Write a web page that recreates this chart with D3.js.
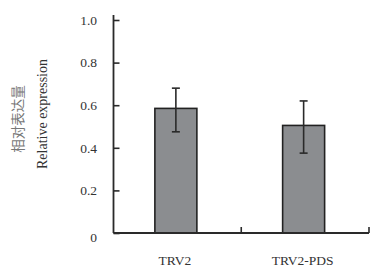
<!DOCTYPE html>
<html>
<head>
<meta charset="utf-8">
<script src="https://cdn.jsdelivr.net/npm/d3@7"></script>
<style>
  html, body { margin: 0; padding: 0; background: #fff; }
  svg { display: block; }
</style>
</head>
<body>
<div id="chart"></div>
<script>
'use strict';

// ─── Data ────────────────────────────────────────────────────────────────────
const categories = ['TRV2', 'TRV2-PDS'];
const values     = [0.585, 0.505];
const errLow     = [0.475, 0.375];
const errHigh    = [0.68, 0.62];
const yTicks     = [0, 0.2, 0.4, 0.6, 0.8, 1.0];

// ─── Layout ──────────────────────────────────────────────────────────────────
const W = 377, H = 275;
const x0 = 113.5, x1 = 369;
const yTop = 20, yBase = 233;

const svg = d3.select('#chart').append('svg')
  .attr('width', W).attr('height', H);

const x = d3.scaleBand()
  .domain(categories)
  .range([x0, x1])
  .paddingInner(0)
  .paddingOuter(0);

const y = d3.scaleLinear().domain([0, 1]).range([yBase, yTop]);

const barW = 42;
const font = '"Liberation Serif", "Times New Roman", serif';

// Bars
svg.selectAll('rect.bar').data(categories).join('rect')
  .attr('class', 'bar')
  .attr('x', d => x(d) + x.bandwidth() / 2 - barW / 2 - 1.5)
  .attr('y', (d, i) => y(values[i]))
  .attr('width', barW)
  .attr('height', (d, i) => yBase - y(values[i]))
  .attr('fill', '#8b8d90')
  .attr('stroke', '#222')
  .attr('stroke-width', 1.6);

// Error bars
const cx = d => x(d) + x.bandwidth() / 2 - 1.5;
const eb = svg.append('g').attr('stroke', '#2a2a2a').attr('stroke-width', 1.6);
eb.selectAll('line.v').data(categories).join('line')
  .attr('x1', cx).attr('x2', cx)
  .attr('y1', (d, i) => y(errHigh[i]))
  .attr('y2', (d, i) => y(errLow[i]));
eb.selectAll('line.t').data(categories).join('line')
  .attr('x1', d => cx(d) - 4).attr('x2', d => cx(d) + 4)
  .attr('y1', (d, i) => y(errHigh[i])).attr('y2', (d, i) => y(errHigh[i]));
eb.selectAll('line.b').data(categories).join('line')
  .attr('x1', d => cx(d) - 4).attr('x2', d => cx(d) + 4)
  .attr('y1', (d, i) => y(errLow[i])).attr('y2', (d, i) => y(errLow[i]));

// Y axis (ticks pointing inward)
const yAxis = svg.append('g')
  .attr('transform', `translate(${x0},0)`)
  .call(d3.axisRight(y).tickValues(yTicks).tickSize(6).tickFormat(''));
yAxis.select('.domain').remove();
yAxis.selectAll('line').attr('stroke', '#2a2a2a').attr('stroke-width', 1.6);
svg.append('line')
  .attr('x1', x0).attr('x2', x0).attr('y1', 15).attr('y2', yBase)
  .attr('stroke', '#2a2a2a').attr('stroke-width', 1.8);

// Y tick labels
svg.append('g').selectAll('text').data(yTicks).join('text')
  .attr('x', 97)
  .attr('y', d => y(d) + (d === 0 ? 4 : 0))
  .attr('dy', '0.35em')
  .attr('text-anchor', 'end')
  .attr('font-family', font)
  .attr('font-size', 13.5)
  .attr('fill', '#333')
  .text(d => d === 0 ? '0' : d3.format('.1f')(d));

// X axis
svg.append('line')
  .attr('x1', x0).attr('x2', x1).attr('y1', yBase).attr('y2', yBase)
  .attr('stroke', '#2a2a2a').attr('stroke-width', 1.8);
svg.append('g').selectAll('line').data(categories).join('line')
  .attr('x1', d => x(d) + x.bandwidth()).attr('x2', d => x(d) + x.bandwidth())
  .attr('y1', yBase).attr('y2', yBase - 6)
  .attr('stroke', '#2a2a2a').attr('stroke-width', 1.6);

// X labels
svg.append('g').selectAll('text').data(categories).join('text')
  .attr('x', d => cx(d) - 1)
  .attr('y', 265)
  .attr('text-anchor', 'middle')
  .attr('font-family', font)
  .attr('font-size', 13.5)
  .attr('fill', '#333')
  .text(d => d);

// Y axis title
svg.append('text')
  .attr('transform', 'translate(23,119) rotate(-90)')
  .attr('text-anchor', 'middle')
  .attr('font-family', '"Noto Sans CJK SC", serif')
  .attr('font-size', 13.5)
  .attr('fill', '#777')
  .text('相对表达量');
svg.append('text')
  .attr('transform', 'translate(47,114) rotate(-90)')
  .attr('text-anchor', 'middle')
  .attr('font-family', font)
  .attr('font-size', 14)
  .attr('fill', '#333')
  .text('Relative expression');
</script>
</body>
</html>
